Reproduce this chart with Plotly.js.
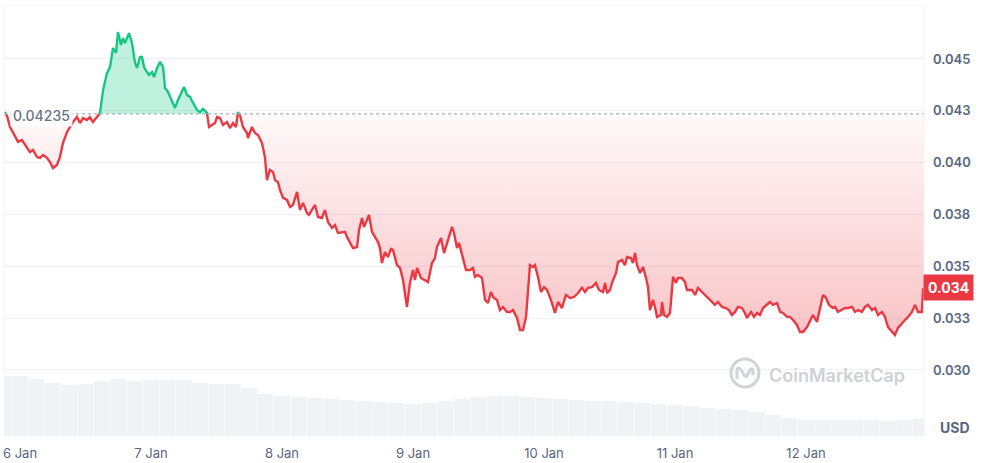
<!DOCTYPE html>
<html>
<head>
<meta charset="utf-8">
<script src="https://cdn.plot.ly/plotly-3.0.1.min.js"></script>
<style>html,body{margin:0;padding:0;background:#fff;}#chart{width:981px;height:463px;}</style>
</head>
<body>
<div id="chart"></div>
<script>
// time in days since 6 Jan 00:00
const days = [
-0.115,-0.099,-0.076,-0.038,-0.015,0.015,0.038,0.076,0.099,0.130,0.153,0.176,0.206,0.229,0.252,0.282,0.305,0.328,0.359,0.382,0.405,0.435,0.458,0.481,0.511,0.534,0.557,0.588,0.611,
0.634,0.664,0.687,0.710,0.733,0.748,0.771,0.786,0.802,0.817,0.832,0.855,0.878,0.893,0.916,0.931,0.947,0.969,0.985,1.008,1.023,1.046,1.069,1.092,1.107,1.130,1.160,1.183,1.206,1.229,1.252,1.275,1.298,1.321,1.351,1.374,1.397,1.427,
1.443,1.466,1.489,1.504,1.527,1.550,1.580,1.603,1.626,1.649,1.664,1.679,1.702,1.733,1.740,1.756,1.771,1.794,1.817,1.847,1.870,1.885,1.908,1.931,1.947,1.969,1.985,2.008,2.038,2.061,2.084,2.115,2.137,2.160,2.191,2.206,
2.252,2.275,2.305,2.328,2.351,2.382,2.405,2.427,2.458,2.481,2.496,2.519,2.542,2.573,2.588,2.611,2.626,2.649,2.664,2.687,2.710,2.733,2.748,2.763,2.786,2.809,2.832,2.847,2.878,2.901,2.924,2.954,2.977,3.000,3.015,3.031,3.061,3.084,3.115,3.145,3.168,3.183,3.214,3.237,3.260,3.298,3.313,3.336,
3.351,3.382,3.405,3.435,3.458,3.473,3.496,3.527,3.550,3.573,3.595,3.611,3.641,3.664,3.687,3.718,3.740,3.763,3.794,3.817,3.840,3.863,3.893,3.916,3.931,3.954,3.977,4.000,4.023,4.053,4.084,4.107,4.137,4.168,4.198,4.229,4.260,4.290,4.313,4.336,4.366,4.397,4.420,4.450,4.466,4.481,4.504,
4.519,4.550,4.565,4.595,4.618,4.634,4.664,4.679,4.695,4.710,4.733,4.756,4.779,4.794,4.809,4.832,4.847,4.863,4.893,4.901,4.916,4.939,4.962,4.985,5.008,5.023,5.053,5.076,5.092,5.130,5.153,5.176,5.206,5.229,5.252,5.282,5.305,5.328,5.359,5.389,5.412,5.435,5.458,5.481,5.511,5.534,5.550,5.580,5.603,5.626,5.649,
5.672,5.702,5.725,5.748,5.779,5.802,5.824,5.855,5.878,5.901,5.931,5.954,5.977,6.008,6.031,6.053,6.084,6.107,6.130,6.153,6.176,6.206,6.221,6.244,6.275,6.298,6.321,6.351,6.374,6.397,6.427,6.450,6.473,6.504,6.527,6.550,6.580,6.603,6.626,6.656,6.679,6.702,6.733,6.756,6.779,6.809,6.832,6.855,6.885,6.893,6.901
];
const price = [
0.04244,0.04225,0.04172,0.04124,0.04100,0.04109,0.04085,0.04051,0.04061,0.04027,0.04023,0.04037,0.04023,0.04003,0.03974,0.03989,0.04027,0.04095,0.04148,0.04172,0.04196,0.04220,0.04191,0.04215,0.04206,0.04220,0.04196,0.04220,0.04240,
0.04350,0.04432,0.04461,0.04553,0.04529,0.04630,0.04568,0.04601,0.04577,0.04606,0.04625,0.04577,0.04481,0.04457,0.04510,0.04510,0.04461,0.04437,0.04423,0.04437,0.04413,0.04457,0.04486,0.04461,0.04360,0.04341,0.04302,0.04264,0.04302,0.04336,0.04365,0.04326,0.04317,0.04288,0.04254,0.04244,0.04259,0.04240,
0.04172,0.04182,0.04191,0.04220,0.04215,0.04182,0.04196,0.04167,0.04191,0.04172,0.04244,0.04230,0.04172,0.04143,0.04119,0.04143,0.04172,0.04143,0.04133,0.04095,0.04027,0.03916,0.03965,0.03955,0.03916,0.03907,0.03868,0.03830,0.03820,0.03786,0.03796,0.03859,0.03772,0.03806,0.03757,0.03748,
0.03796,0.03738,0.03733,0.03772,0.03714,0.03685,0.03699,0.03661,0.03666,0.03666,0.03642,0.03613,0.03588,0.03593,0.03675,0.03733,0.03690,0.03724,0.03748,0.03666,0.03642,0.03617,0.03588,0.03516,0.03569,0.03545,0.03584,0.03579,0.03506,0.03492,0.03434,0.03304,0.03420,0.03482,0.03434,0.03492,0.03444,0.03434,0.03424,0.03516,0.03540,0.03593,0.03637,0.03564,0.03613,0.03690,0.03661,0.03588,
0.03613,0.03545,0.03482,0.03482,0.03492,0.03449,0.03458,0.03444,0.03338,0.03323,0.03376,0.03352,0.03338,0.03289,0.03304,0.03280,0.03280,0.03289,0.03251,0.03193,0.03193,0.03256,0.03506,0.03497,0.03506,0.03449,0.03376,0.03400,0.03386,0.03338,0.03275,0.03328,0.03299,0.03362,0.03347,0.03352,0.03371,0.03396,0.03376,0.03396,0.03400,0.03420,0.03386,0.03376,0.03420,0.03371,0.03386,
0.03420,0.03468,0.03521,0.03531,0.03506,0.03545,0.03540,0.03516,0.03564,0.03506,0.03468,0.03497,0.03444,0.03400,0.03289,0.03338,0.03304,0.03256,0.03265,0.03328,0.03265,0.03256,0.03275,0.03449,0.03420,0.03444,0.03444,0.03424,0.03386,0.03386,0.03362,0.03396,0.03376,0.03362,0.03347,0.03328,0.03314,0.03328,0.03304,0.03299,0.03289,0.03265,0.03280,0.03304,0.03299,0.03275,0.03251,0.03280,0.03256,0.03275,0.03265,
0.03299,0.03314,0.03328,0.03314,0.03323,0.03280,0.03275,0.03256,0.03256,0.03241,0.03217,0.03183,0.03183,0.03207,0.03241,0.03265,0.03232,0.03304,0.03362,0.03347,0.03314,0.03299,0.03304,0.03280,0.03289,0.03299,0.03299,0.03304,0.03280,0.03289,0.03280,0.03304,0.03314,0.03289,0.03299,0.03265,0.03280,0.03256,0.03207,0.03183,0.03169,0.03203,0.03227,0.03241,0.03256,0.03280,0.03314,0.03280,0.03280,0.03386,0.03396
];
const basePrice = 0.04235;
const lastLabel = "0.034";

// volume (3-hour buckets), millions USD
const volDays = [-0.125,0,0.125,0.25,0.375,0.5,0.625,0.75,0.875,1,1.125,1.25,1.375,1.5,1.625,1.75,1.875,2,2.125,2.25,2.375,2.5,2.625,2.75,2.875,3,3.125,3.25,3.375,3.5,3.625,3.75,3.875,4,4.125,4.25,4.375,4.5,4.625,4.75,4.875,5,5.125,5.25,5.375,5.5,5.625,5.75,5.875,6,6.125,6.25,6.375,6.5,6.625,6.75,6.875];
const volume = [6.0,6.0,5.7,5.3,5.1,5.2,5.5,5.7,5.5,5.6,5.6,5.6,5.3,5.2,5.2,4.8,4.2,4.0,3.9,3.8,3.7,3.6,3.5,3.4,3.3,3.2,3.3,3.5,3.7,3.9,4.0,4.0,3.9,3.8,3.7,3.6,3.5,3.5,3.4,3.3,3.2,3.1,3.0,2.8,2.7,2.6,2.4,2.1,1.8,1.6,1.6,1.6,1.6,1.6,1.5,1.6,1.7];

const tickVals = [0.030,0.0325,0.035,0.0375,0.040,0.0425,0.045];
const tickText = ["0.030","0.033","0.035","0.038","0.040","0.043","0.045"];
const dayTicks = [0,1,2,3,4,5,6];
const dayLabels = ["6 Jan","7 Jan","8 Jan","9 Jan","10 Jan","11 Jan","12 Jan"];

// split at baseline crossings
const xs = [], vs = [];
for (let i = 0; i < days.length; i++) {
  xs.push(days[i]); vs.push(price[i]);
  if (i < days.length - 1) {
    const a = price[i] - basePrice, b = price[i+1] - basePrice;
    if (a * b < 0) {
      const t = (basePrice - price[i]) / (price[i+1] - price[i]);
      xs.push(days[i] + t * (days[i+1] - days[i])); vs.push(basePrice);
    }
  }
}
const baseArr = xs.map(() => basePrice);
const above = vs.map(v => Math.max(v, basePrice));
const below = vs.map(v => Math.min(v, basePrice));
const greenLine = vs.map(v => v >= basePrice ? v : null);
const redLine = vs.map(v => v <= basePrice ? v : null);

const GREEN = '#16c784', RED = '#ea3943', TXT = '#58667e';

const traces = [
  {x: volDays, y: volume, type: 'bar', yaxis: 'y2', marker: {color: 'rgba(207,214,228,0.32)', line: {width: 0}}, hoverinfo: 'skip'},
  {x: xs, y: baseArr, mode: 'lines', line: {width: 0}, hoverinfo: 'skip'},
  {x: xs, y: above, mode: 'lines', line: {width: 0}, fill: 'tonexty', fillcolor: 'rgba(22,199,132,0.27)', hoverinfo: 'skip'},
  {x: xs, y: baseArr, mode: 'lines', line: {width: 0}, hoverinfo: 'skip'},
  {x: xs, y: below, mode: 'lines', line: {width: 0}, fill: 'tonexty',
   fillcolor: 'rgba(234,57,67,0.12)',
   fillgradient: {type: 'vertical', colorscale: [[0, 'rgba(234,57,67,0.30)'], [1, 'rgba(234,57,67,0.03)']]},
   hoverinfo: 'skip'},
  {x: xs, y: greenLine, mode: 'lines', line: {color: GREEN, width: 2.4}, hoverinfo: 'skip'},
  {x: xs, y: redLine, mode: 'lines', line: {color: RED, width: 2.4}, hoverinfo: 'skip'}
];

const layout = {
  width: 981, height: 463,
  margin: {l: 4, r: 57, t: 5, b: 27},
  paper_bgcolor: '#ffffff', plot_bgcolor: '#ffffff',
  showlegend: false,
  font: {family: 'Inter, sans-serif', color: TXT},
  bargap: 0.03,
  xaxis: {
    range: [-0.1221, 6.9008], tickvals: dayTicks, ticktext: dayLabels,
    showgrid: false, zeroline: false, showline: false, ticks: '',
    tickfont: {size: 13, color: TXT}, ticklabelstandoff: 8, fixedrange: true
  },
  yaxis: {
    range: [0.026816, 0.047604], side: 'right', tickvals: tickVals, ticktext: tickText,
    showgrid: true, gridcolor: '#eff2f5', gridwidth: 1, zeroline: false, showline: false, ticks: '',
    tickfont: {size: 13, color: TXT, weight: 600}, ticklabelstandoff: 8, fixedrange: true
  },
  yaxis2: {overlaying: 'y', range: [0, 43.1], visible: false, fixedrange: true},
  shapes: [
    {type: 'line', xref: 'paper', yref: 'y', x0: 0, x1: 1, y0: basePrice, y1: basePrice, line: {color: '#a7b1c2', width: 1.2, dash: 'dot'}, layer: 'above'},
    {type: 'line', xref: 'paper', yref: 'paper', x0: 0, x1: 1, y0: 1, y1: 1, line: {color: '#eff2f5', width: 1}},
    {type: 'line', xref: 'paper', yref: 'paper', x0: 1, x1: 1, y0: 0, y1: 1, line: {color: '#eff2f5', width: 1}},
    {type: 'line', xref: 'paper', yref: 'paper', x0: 0, x1: 0, y0: 0, y1: 1, line: {color: '#eff2f5', width: 1}},
    {type: 'circle', xref: 'paper', yref: 'paper', xsizemode: 'pixel', ysizemode: 'pixel', xanchor: 0.8054, yanchor: 0.1462,
     x0: -14, x1: 14, y0: -14, y1: 14, line: {color: '#cfd3da', width: 3}},
    {type: 'path', xref: 'paper', yref: 'paper', xsizemode: 'pixel', ysizemode: 'pixel', xanchor: 0.8054, yanchor: 0.1462,
     path: 'M -8 -6 L -8 3 Q -7 7 -4 3 L 0 -3 Q 1 -4 2 -3 L 5 3 Q 7 6 8 2 L 8 -2', line: {color: '#cfd3da', width: 3}}
  ],
  annotations: [
    {xref: 'paper', yref: 'y', x: 0.0065, y: basePrice, xanchor: 'left', yanchor: 'middle', yshift: -2, text: basePrice.toFixed(5),
     showarrow: false, bgcolor: 'rgba(255,255,255,0.85)', borderpad: 2, font: {size: 14, color: '#687286', weight: 500}},
    {xref: 'paper', yref: 'y', x: 1, y: price[price.length - 1], xanchor: 'left', yanchor: 'middle', xshift: -1, text: lastLabel,
     showarrow: false, bgcolor: RED, borderpad: 4, font: {size: 14, color: '#ffffff', weight: 700}},
    {xref: 'paper', yref: 'paper', x: 1, y: 0.0186, xanchor: 'left', yanchor: 'middle', xshift: 14, text: 'USD',
     showarrow: false, font: {size: 14, color: TXT, weight: 700}},
    {xref: 'paper', yref: 'paper', x: 0.8326, y: 0.1415, xanchor: 'left', yanchor: 'middle', xshift: -3, text: 'CoinMarketCap',
     showarrow: false, font: {size: 18, color: '#cdd1d8', weight: 600}}
  ]
};

Plotly.newPlot('chart', traces, layout, {staticPlot: true, displayModeBar: false});
</script>
</body>
</html>
